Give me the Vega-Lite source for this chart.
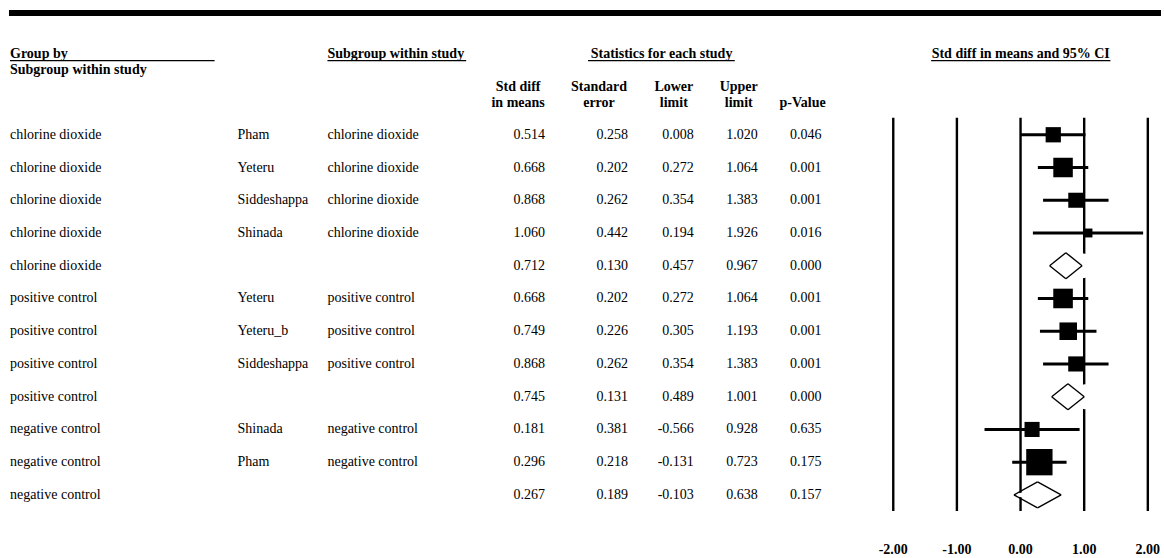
{
  "$schema": "https://vega.github.io/schema/vega-lite/v6.json",
  "width": 1164,
  "height": 558,
  "autosize": {"type": "fit", "contains": "padding"},
  "padding": 0,
  "background": "white",
  "config": {
    "view": {"stroke": null},
    "axis": {"disable": true},
    "locale": {"number": {"decimal": ".", "thousands": ",", "grouping": [3], "currency": ["$", ""], "minus": "-"}},
    "text": {"font": "Liberation Serif", "fontSize": 14, "color": "#000000", "baseline": "middle"},
    "rule": {"color": "#000000"},
    "square": {"color": "#000000", "opacity": 1}
  },
  "data": {"values": [
    {"row": 1, "type": "study", "group": "chlorine dioxide", "study": "Pham", "subgroup": "chlorine dioxide", "est": 0.514, "se": 0.258, "lo": 0.008, "hi": 1.020, "p": 0.046, "weight": 25.3},
    {"row": 2, "type": "study", "group": "chlorine dioxide", "study": "Yeteru", "subgroup": "chlorine dioxide", "est": 0.668, "se": 0.202, "lo": 0.272, "hi": 1.064, "p": 0.001, "weight": 41.4},
    {"row": 3, "type": "study", "group": "chlorine dioxide", "study": "Siddeshappa", "subgroup": "chlorine dioxide", "est": 0.868, "se": 0.262, "lo": 0.354, "hi": 1.383, "p": 0.001, "weight": 24.6},
    {"row": 4, "type": "study", "group": "chlorine dioxide", "study": "Shinada", "subgroup": "chlorine dioxide", "est": 1.060, "se": 0.442, "lo": 0.194, "hi": 1.926, "p": 0.016, "weight": 8.6},
    {"row": 5, "type": "summary", "group": "chlorine dioxide", "study": "", "subgroup": "", "est": 0.712, "se": 0.130, "lo": 0.457, "hi": 0.967, "p": 0.000, "weight": 0},
    {"row": 6, "type": "study", "group": "positive control", "study": "Yeteru", "subgroup": "positive control", "est": 0.668, "se": 0.202, "lo": 0.272, "hi": 1.064, "p": 0.001, "weight": 41.7},
    {"row": 7, "type": "study", "group": "positive control", "study": "Yeteru_b", "subgroup": "positive control", "est": 0.749, "se": 0.226, "lo": 0.305, "hi": 1.193, "p": 0.001, "weight": 33.4},
    {"row": 8, "type": "study", "group": "positive control", "study": "Siddeshappa", "subgroup": "positive control", "est": 0.868, "se": 0.262, "lo": 0.354, "hi": 1.383, "p": 0.001, "weight": 24.9},
    {"row": 9, "type": "summary", "group": "positive control", "study": "", "subgroup": "", "est": 0.745, "se": 0.131, "lo": 0.489, "hi": 1.001, "p": 0.000, "weight": 0},
    {"row": 10, "type": "study", "group": "negative control", "study": "Shinada", "subgroup": "negative control", "est": 0.181, "se": 0.381, "lo": -0.566, "hi": 0.928, "p": 0.635, "weight": 24.7},
    {"row": 11, "type": "study", "group": "negative control", "study": "Pham", "subgroup": "negative control", "est": 0.296, "se": 0.218, "lo": -0.131, "hi": 0.723, "p": 0.175, "weight": 75.3},
    {"row": 12, "type": "summary", "group": "negative control", "study": "", "subgroup": "", "est": 0.267, "se": 0.189, "lo": -0.103, "hi": 0.638, "p": 0.157, "weight": 0}
  ]},
  "layer": [
    {
      "data": {"values": [{"tick": -2}, {"tick": -1}, {"tick": 0}, {"tick": 1}, {"tick": 2}]},
      "mark": {"type": "rule", "strokeWidth": 2.4},
      "encoding": {
        "x": {"field": "tick", "type": "quantitative", "scale": {"domain": [-16.036, 2.2227], "nice": false, "zero": false}, "axis": null},
        "y": {"datum": 0.4817, "type": "quantitative", "scale": {"domain": [-3.1159, 13.896], "nice": false, "zero": false, "reverse": true}, "axis": null},
        "y2": {"datum": 12.494}
      }
    },
    {
      "data": {"values": [{"tick": -2}, {"tick": -1}, {"tick": 0}, {"tick": 1}, {"tick": 2}]},
      "mark": {"type": "text", "fontWeight": "bold", "align": "center"},
      "encoding": {
        "x": {"field": "tick", "type": "quantitative", "scale": {"domain": [-16.036, 2.2227], "nice": false, "zero": false}, "axis": null},
        "y": {"datum": 13.683, "type": "quantitative", "scale": {"domain": [-3.1159, 13.896], "nice": false, "zero": false, "reverse": true}, "axis": null},
        "text": {"field": "tick", "type": "quantitative", "format": ".2f"}
      }
    },
    {
      "transform": [{"filter": "datum.type === 'study'"}],
      "mark": {"type": "rule", "strokeWidth": 3},
      "encoding": {
        "x": {"field": "lo", "type": "quantitative", "scale": {"domain": [-16.036, 2.2227], "nice": false, "zero": false}, "axis": null},
        "x2": {"field": "hi"},
        "y": {"field": "row", "type": "quantitative", "scale": {"domain": [-3.1159, 13.896], "nice": false, "zero": false, "reverse": true}, "axis": null}
      }
    },
    {
      "transform": [{"filter": "datum.type === 'study'"}],
      "mark": {"type": "square", "filled": true, "opacity": 1},
      "encoding": {
        "x": {"field": "est", "type": "quantitative", "scale": {"domain": [-16.036, 2.2227], "nice": false, "zero": false}, "axis": null},
        "y": {"field": "row", "type": "quantitative", "scale": {"domain": [-3.1159, 13.896], "nice": false, "zero": false, "reverse": true}, "axis": null},
        "size": {"field": "weight", "type": "quantitative", "scale": {"domain": [0, 100], "range": [0, 920], "zero": true}, "legend": null}
      }
    },
    {
      "transform": [
        {"filter": "datum.type === 'summary'"},
        {"fold": ["lo", "est", "hi"], "as": ["pt", "xv"]}
      ],
      "mark": {"type": "trail", "color": "#ffffff", "opacity": 1},
      "encoding": {
        "x": {"field": "xv", "type": "quantitative", "scale": {"domain": [-16.036, 2.2227], "nice": false, "zero": false}, "axis": null},
        "y": {"field": "row", "type": "quantitative", "scale": {"domain": [-3.1159, 13.896], "nice": false, "zero": false, "reverse": true}, "axis": null},
        "size": {"field": "pt", "type": "ordinal", "scale": {"domain": ["lo", "est", "hi"], "range": [0, 25, 0]}, "legend": null},
        "detail": {"field": "row", "type": "nominal"},
        "order": {"field": "xv", "type": "quantitative"}
      }
    },
    {
      "transform": [{"filter": "datum.type === 'summary'"}],
      "mark": {"type": "rule", "strokeWidth": 1.4, "y2Offset": -13},
      "encoding": {
        "x": {"field": "lo", "type": "quantitative", "scale": {"domain": [-16.036, 2.2227], "nice": false, "zero": false}, "axis": null},
        "x2": {"field": "est"},
        "y": {"field": "row", "type": "quantitative", "scale": {"domain": [-3.1159, 13.896], "nice": false, "zero": false, "reverse": true}, "axis": null},
        "y2": {"field": "row"}
      }
    },
    {
      "transform": [{"filter": "datum.type === 'summary'"}],
      "mark": {"type": "rule", "strokeWidth": 1.4, "yOffset": -13},
      "encoding": {
        "x": {"field": "est", "type": "quantitative", "scale": {"domain": [-16.036, 2.2227], "nice": false, "zero": false}, "axis": null},
        "x2": {"field": "hi"},
        "y": {"field": "row", "type": "quantitative", "scale": {"domain": [-3.1159, 13.896], "nice": false, "zero": false, "reverse": true}, "axis": null},
        "y2": {"field": "row"}
      }
    },
    {
      "transform": [{"filter": "datum.type === 'summary'"}],
      "mark": {"type": "rule", "strokeWidth": 1.4, "y2Offset": 13},
      "encoding": {
        "x": {"field": "hi", "type": "quantitative", "scale": {"domain": [-16.036, 2.2227], "nice": false, "zero": false}, "axis": null},
        "x2": {"field": "est"},
        "y": {"field": "row", "type": "quantitative", "scale": {"domain": [-3.1159, 13.896], "nice": false, "zero": false, "reverse": true}, "axis": null},
        "y2": {"field": "row"}
      }
    },
    {
      "transform": [{"filter": "datum.type === 'summary'"}],
      "mark": {"type": "rule", "strokeWidth": 1.4, "yOffset": 13},
      "encoding": {
        "x": {"field": "est", "type": "quantitative", "scale": {"domain": [-16.036, 2.2227], "nice": false, "zero": false}, "axis": null},
        "x2": {"field": "lo"},
        "y": {"field": "row", "type": "quantitative", "scale": {"domain": [-3.1159, 13.896], "nice": false, "zero": false, "reverse": true}, "axis": null},
        "y2": {"field": "row"}
      }
    },
    {
      "mark": {"type": "text", "align": "left"},
      "encoding": {
        "x": {"datum": -15.879, "type": "quantitative", "scale": {"domain": [-16.036, 2.2227], "nice": false, "zero": false}, "axis": null},
        "y": {"field": "row", "type": "quantitative", "scale": {"domain": [-3.1159, 13.896], "nice": false, "zero": false, "reverse": true}, "axis": null},
        "text": {"field": "group"}
      }
    },
    {
      "mark": {"type": "text", "align": "left"},
      "encoding": {
        "x": {"datum": -12.303, "type": "quantitative"},
        "y": {"field": "row", "type": "quantitative"},
        "text": {"field": "study"}
      }
    },
    {
      "mark": {"type": "text", "align": "left"},
      "encoding": {
        "x": {"datum": -10.891, "type": "quantitative"},
        "y": {"field": "row", "type": "quantitative"},
        "text": {"field": "subgroup"}
      }
    },
    {
      "mark": {"type": "text", "align": "right"},
      "encoding": {
        "x": {"datum": -7.471, "type": "quantitative"},
        "y": {"field": "row", "type": "quantitative"},
        "text": {"field": "est", "type": "quantitative", "format": ".3f"}
      }
    },
    {
      "mark": {"type": "text", "align": "right"},
      "encoding": {
        "x": {"datum": -6.169, "type": "quantitative"},
        "y": {"field": "row", "type": "quantitative"},
        "text": {"field": "se", "type": "quantitative", "format": ".3f"}
      }
    },
    {
      "mark": {"type": "text", "align": "right"},
      "encoding": {
        "x": {"datum": -5.134, "type": "quantitative"},
        "y": {"field": "row", "type": "quantitative"},
        "text": {"field": "lo", "type": "quantitative", "format": ".3f"}
      }
    },
    {
      "mark": {"type": "text", "align": "right"},
      "encoding": {
        "x": {"datum": -4.130, "type": "quantitative"},
        "y": {"field": "row", "type": "quantitative"},
        "text": {"field": "hi", "type": "quantitative", "format": ".3f"}
      }
    },
    {
      "mark": {"type": "text", "align": "right"},
      "encoding": {
        "x": {"datum": -3.126, "type": "quantitative"},
        "y": {"field": "row", "type": "quantitative"},
        "text": {"field": "p", "type": "quantitative", "format": ".3f"}
      }
    },
    {
      "data": {"values": [{}]},
      "mark": {"type": "rule", "strokeWidth": 6},
      "encoding": {
        "x": {"datum": -15.895, "type": "quantitative"},
        "x2": {"datum": 2.207},
        "y": {"datum": -2.7195, "type": "quantitative"}
      }
    },
    {
      "data": {"values": [{}]},
      "mark": {"type": "rule", "strokeWidth": 1.3},
      "encoding": {"x": {"datum": -15.879, "type": "quantitative"}, "x2": {"datum": -12.664}, "y": {"datum": -1.262, "type": "quantitative"}}
    },
    {
      "data": {"values": [{}]},
      "mark": {"type": "rule", "strokeWidth": 1.3},
      "encoding": {"x": {"datum": -10.891, "type": "quantitative"}, "x2": {"datum": -8.711}, "y": {"datum": -1.262, "type": "quantitative"}}
    },
    {
      "data": {"values": [{}]},
      "mark": {"type": "rule", "strokeWidth": 1.3},
      "encoding": {"x": {"datum": -6.796, "type": "quantitative"}, "x2": {"datum": -4.491}, "y": {"datum": -1.262, "type": "quantitative"}}
    },
    {
      "data": {"values": [{}]},
      "mark": {"type": "rule", "strokeWidth": 1.3},
      "encoding": {"x": {"datum": -1.405, "type": "quantitative"}, "x2": {"datum": 1.412}, "y": {"datum": -1.262, "type": "quantitative"}}
    },
    {
      "data": {"values": [{}]},
      "mark": {"type": "text", "fontWeight": "bold", "align": "left", "text": "Group by"},
      "encoding": {"x": {"datum": -15.879, "type": "quantitative"}, "y": {"datum": -1.4695, "type": "quantitative"}}
    },
    {
      "data": {"values": [{}]},
      "mark": {"type": "text", "fontWeight": "bold", "align": "left", "text": "Subgroup within study"},
      "encoding": {"x": {"datum": -15.879, "type": "quantitative"}, "y": {"datum": -0.982, "type": "quantitative"}}
    },
    {
      "data": {"values": [{}]},
      "mark": {"type": "text", "fontWeight": "bold", "align": "left", "text": "Subgroup within study"},
      "encoding": {"x": {"datum": -10.891, "type": "quantitative"}, "y": {"datum": -1.4695, "type": "quantitative"}}
    },
    {
      "data": {"values": [{}]},
      "mark": {"type": "text", "fontWeight": "bold", "align": "center", "text": "Statistics for each study"},
      "encoding": {"x": {"datum": -5.641, "type": "quantitative"}, "y": {"datum": -1.4695, "type": "quantitative"}}
    },
    {
      "data": {"values": [{}]},
      "mark": {"type": "text", "fontWeight": "bold", "align": "center", "text": "Std diff in means and 95% CI"},
      "encoding": {"x": {"datum": 0.003, "type": "quantitative"}, "y": {"datum": -1.4695, "type": "quantitative"}}
    },
    {
      "data": {"values": [{}]},
      "mark": {"type": "text", "fontWeight": "bold", "align": "center", "text": "Std diff"},
      "encoding": {"x": {"datum": -7.895, "type": "quantitative"}, "y": {"datum": -0.4634, "type": "quantitative"}}
    },
    {
      "data": {"values": [{}]},
      "mark": {"type": "text", "fontWeight": "bold", "align": "center", "text": "in means"},
      "encoding": {"x": {"datum": -7.895, "type": "quantitative"}, "y": {"datum": 0.0244, "type": "quantitative"}}
    },
    {
      "data": {"values": [{}]},
      "mark": {"type": "text", "fontWeight": "bold", "align": "center", "text": "Standard"},
      "encoding": {"x": {"datum": -6.624, "type": "quantitative"}, "y": {"datum": -0.4634, "type": "quantitative"}}
    },
    {
      "data": {"values": [{}]},
      "mark": {"type": "text", "fontWeight": "bold", "align": "center", "text": "error"},
      "encoding": {"x": {"datum": -6.624, "type": "quantitative"}, "y": {"datum": 0.0244, "type": "quantitative"}}
    },
    {
      "data": {"values": [{}]},
      "mark": {"type": "text", "fontWeight": "bold", "align": "center", "text": "Lower"},
      "encoding": {"x": {"datum": -5.448, "type": "quantitative"}, "y": {"datum": -0.4634, "type": "quantitative"}}
    },
    {
      "data": {"values": [{}]},
      "mark": {"type": "text", "fontWeight": "bold", "align": "center", "text": "limit"},
      "encoding": {"x": {"datum": -5.448, "type": "quantitative"}, "y": {"datum": 0.0244, "type": "quantitative"}}
    },
    {
      "data": {"values": [{}]},
      "mark": {"type": "text", "fontWeight": "bold", "align": "center", "text": "Upper"},
      "encoding": {"x": {"datum": -4.428, "type": "quantitative"}, "y": {"datum": -0.4634, "type": "quantitative"}}
    },
    {
      "data": {"values": [{}]},
      "mark": {"type": "text", "fontWeight": "bold", "align": "center", "text": "limit"},
      "encoding": {"x": {"datum": -4.428, "type": "quantitative"}, "y": {"datum": 0.0244, "type": "quantitative"}}
    },
    {
      "data": {"values": [{}]},
      "mark": {"type": "text", "fontWeight": "bold", "align": "center", "text": "p-Value"},
      "encoding": {"x": {"datum": -3.424, "type": "quantitative"}, "y": {"datum": 0.0244, "type": "quantitative"}}
    }
  ]
}
